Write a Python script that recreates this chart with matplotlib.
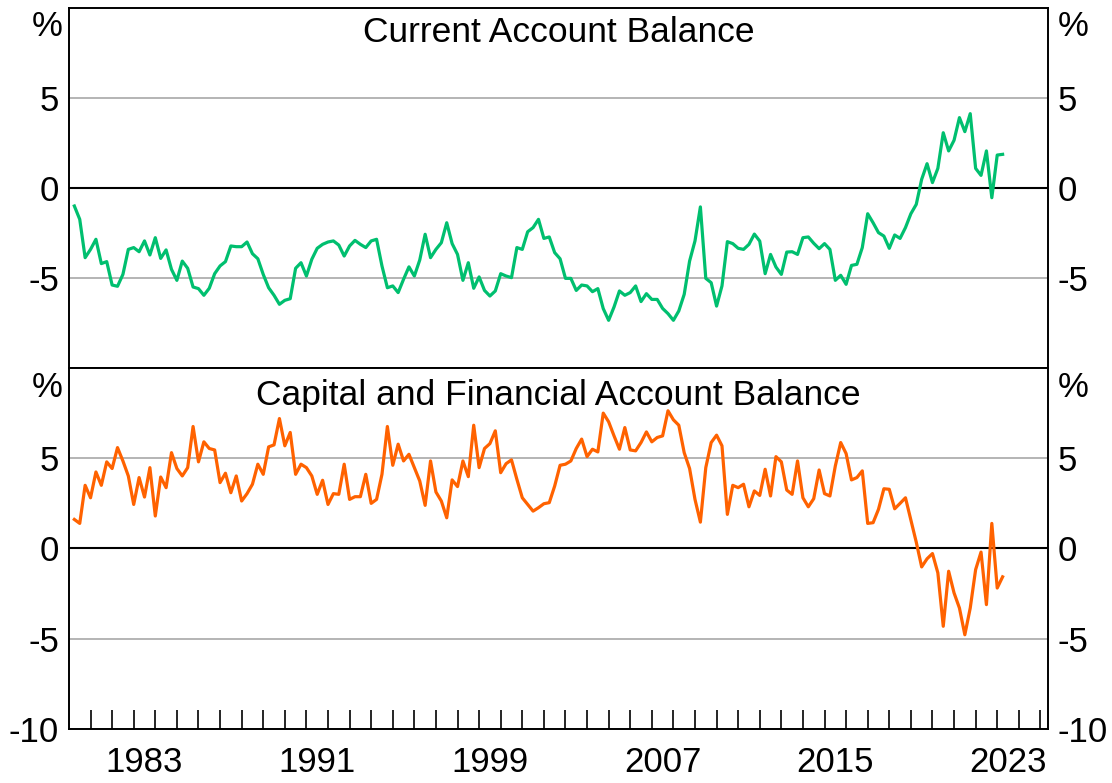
#!/usr/bin/env python3
# -*- coding: utf-8 -*-
"""Current account and capital/financial account balances, % of GDP."""

import numpy as np
import pandas as pd
import matplotlib
matplotlib.use("Agg")
import matplotlib.pyplot as plt
from matplotlib.ticker import FixedLocator, NullFormatter

plt.rcParams["font.family"] = ["Liberation Sans", "DejaVu Sans"]
plt.rcParams["axes.unicode_minus"] = False

# quarterly observations, 1980Q1 .. 2023Q1
quarters = pd.period_range("1980Q1", "2023Q1", freq="Q")

current_account = [
    -1.0, -1.74, -3.87, -3.41, -2.85, -4.2, -4.09, -5.39, -5.46, -4.8,
    -3.41, -3.31, -3.54, -2.94, -3.72, -2.76, -3.91, -3.44, -4.52, -5.13,
    -4.06, -4.46, -5.5, -5.59, -5.96, -5.57, -4.76, -4.33, -4.09, -3.22,
    -3.26, -3.26, -3.0, -3.65, -3.93, -4.8, -5.54, -5.96, -6.46, -6.24,
    -6.15, -4.46, -4.15, -4.89, -3.96, -3.35, -3.13, -3.0, -2.94, -3.17,
    -3.78, -3.22, -2.91, -3.13, -3.31, -2.94, -2.85, -4.33, -5.54, -5.44,
    -5.81, -5.07, -4.38, -4.89, -4.0, -2.57, -3.87, -3.41, -3.04, -1.93,
    -3.09, -3.69, -5.13, -4.15, -5.57, -4.94, -5.69, -6.0, -5.72, -4.76,
    -4.89, -4.98, -3.31, -3.41, -2.43, -2.2, -1.74, -2.8, -2.72, -3.59,
    -3.93, -5.02, -5.02, -5.69, -5.39, -5.44, -5.76, -5.59, -6.7, -7.35,
    -6.61, -5.72, -5.96, -5.81, -5.44, -6.31, -5.87, -6.19, -6.19, -6.69,
    -6.98, -7.35, -6.83, -5.91, -4.06, -2.94, -1.05, -5.02, -5.26, -6.56,
    -5.44, -2.98, -3.09, -3.35, -3.41, -3.13, -2.56, -2.95, -4.76, -3.69,
    -4.39, -4.8, -3.56, -3.54, -3.69, -2.76, -2.72, -3.07, -3.37, -3.09,
    -3.41, -5.13, -4.85, -5.35, -4.30, -4.24, -3.31, -1.43, -1.93, -2.48,
    -2.67, -3.35, -2.61, -2.8, -2.2, -1.43, -0.91, 0.48, 1.35, 0.30,
    1.09, 3.07, 2.06, 2.65, 3.91, 3.13, 4.13, 1.09, 0.70, 2.06,
    -0.54, 1.83, 1.87,
]

capital_financial = [
    1.61, 1.39, 3.5, 2.81, 4.24, 3.5, 4.80, 4.43, 5.59, 4.85,
    4.02, 2.44, 3.93, 2.85, 4.48, 1.80, 3.96, 3.37, 5.31, 4.43,
    4.02, 4.48, 6.76, 4.80, 5.91, 5.54, 5.46, 3.65, 4.17, 3.09,
    4.02, 2.63, 3.04, 3.56, 4.67, 4.11, 5.63, 5.74, 7.20, 5.69,
    6.43, 4.11, 4.67, 4.48, 4.02, 3.0, 3.78, 2.44, 3.04, 3.0,
    4.67, 2.72, 2.87, 2.87, 4.11, 2.5, 2.72, 4.11, 6.76, 4.61,
    5.78, 4.85, 5.22, 4.48, 3.74, 2.39, 4.85, 3.13, 2.63, 1.70,
    3.80, 3.43, 4.85, 3.98, 6.83, 4.48, 5.54, 5.81, 6.52, 4.20,
    4.70, 4.91, 3.83, 2.81, 2.44, 2.07, 2.26, 2.48, 2.54, 3.46,
    4.61, 4.67, 4.85, 5.54, 6.06, 5.09, 5.5, 5.35, 7.5, 7.02,
    6.24, 5.5, 6.70, 5.46, 5.41, 5.87, 6.46, 5.91, 6.15, 6.24,
    7.63, 7.13, 6.83, 5.31, 4.43, 2.72, 1.46, 4.48, 5.87, 6.28,
    5.69, 1.89, 3.5, 3.37, 3.56, 2.31, 3.19, 2.94, 4.39, 2.91,
    5.09, 4.80, 3.24, 3.0, 4.85, 2.81, 2.31, 2.76, 4.35, 3.04,
    2.91, 4.57, 5.87, 5.26, 3.80, 3.93, 4.30, 1.39, 1.43, 2.17,
    3.31, 3.28, 2.20, 2.5, 2.81, 1.57, 0.35, -1.02, -0.57, -0.28,
    -1.35, -4.31, -1.26, -2.46, -3.30, -4.78, -3.30, -1.17, -0.20, -3.11,
    1.39, -2.19, -1.57,
]

label_years = [1983, 1991, 1999, 2007, 2015, 2023]
top_ticks = [-5, 0, 5]
bottom_ticks = [-10, -5, 0, 5]

GREEN = "#00BF6F"
ORANGE = "#FF6200"
GRID = "#B4B4B4"
FS = 25
FS_TITLE = 25.5


def _quarter_end(q: pd.PeriodIndex) -> np.ndarray:
    return q.year.to_numpy() + q.quarter.to_numpy() / 4.0


def _style_panel(ax, yticks, title, title_y):
    ax.set_ylim(-10, 10)
    ax.set_xlim(1980, 2025.35)
    for v in yticks:
        if v == 0:
            ax.axhline(0, color="black", linewidth=1.5, zorder=1)
        else:
            ax.axhline(v, color=GRID, linewidth=1.4, zorder=1)
    ax.set_yticks(yticks)
    ax.set_yticklabels([str(v) for v in yticks])
    ax.tick_params(axis="y", which="both", length=0, labelsize=FS,
                   left=True, right=True, labelleft=True, labelright=True, pad=7)
    for side in ["left", "right", "top", "bottom"]:
        ax.spines[side].set_linewidth(1.4)
    ax.text(0.5, title_y, title, transform=ax.transAxes, ha="center",
            va="baseline", fontsize=FS_TITLE)
    ax.text(-0.0065, 0.921, "%", transform=ax.transAxes, ha="right",
            va="baseline", fontsize=FS)
    ax.text(1.0105, 0.921, "%", transform=ax.transAxes, ha="left",
            va="baseline", fontsize=FS)


def main() -> int:
    x = _quarter_end(quarters)

    fig = plt.figure(figsize=(11.12, 7.83), dpi=100)
    ax_top = fig.add_axes([0.0620, 0.5300, 0.8804, 0.4598])
    ax_bot = fig.add_axes([0.0620, 0.0690, 0.8804, 0.4610])

    ax_top.plot(x, current_account, color=GREEN, linewidth=2.3, zorder=3)
    ax_bot.plot(x, capital_financial, color=ORANGE, linewidth=2.3, zorder=3)

    _style_panel(ax_top, top_ticks, "Current Account Balance", 0.9056)
    _style_panel(ax_bot, bottom_ticks, "Capital and Financial Account Balance", 0.8975)

    ax_top.set_xticks([])

    # year boundaries as inward minor ticks, labels centred mid-year
    years = np.arange(1981, 2026)
    ax_bot.xaxis.set_minor_locator(FixedLocator(years))
    ax_bot.xaxis.set_minor_formatter(NullFormatter())
    ax_bot.set_xticks([y + 0.5 for y in label_years])
    ax_bot.set_xticklabels([str(y) for y in label_years])
    ax_bot.tick_params(axis="x", which="major", length=0, labelsize=FS, pad=12)
    ax_bot.tick_params(axis="x", which="minor", direction="in", length=14,
                       width=1.2, top=False)

    fig.savefig("out.png", dpi=100)
    plt.close(fig)
    return 0


if __name__ == "__main__":
    raise SystemExit(main())
